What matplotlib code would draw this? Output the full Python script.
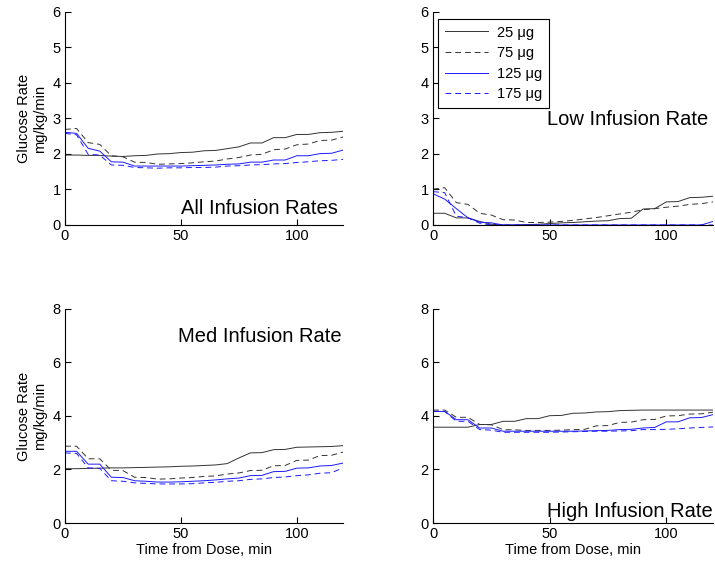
import numpy as np
import matplotlib
matplotlib.use('Agg')
import matplotlib.pyplot as plt

plt.rcParams['font.family'] = ['Liberation Sans', 'DejaVu Sans']

# time from dose, min
time_min = np.arange(0, 121, 5)

doses = ['25 μg', '75 μg', '125 μg', '175 μg']

# All infusion rates
all_25 = [1.97, 1.97, 1.96, 1.96, 1.94, 1.93, 1.95, 1.96, 2.00, 2.01, 2.04, 2.05, 2.09,
          2.10, 2.15, 2.20, 2.31, 2.31, 2.46, 2.46, 2.55, 2.55, 2.60, 2.61, 2.64]
all_75 = [2.69, 2.72, 2.32, 2.27, 1.95, 1.92, 1.77, 1.76, 1.71, 1.72, 1.73, 1.75, 1.78,
          1.80, 1.86, 1.90, 1.97, 1.99, 2.12, 2.14, 2.26, 2.28, 2.38, 2.39, 2.48]
all_125 = [2.61, 2.58, 2.16, 2.08, 1.78, 1.77, 1.66, 1.66, 1.66, 1.66, 1.66, 1.67, 1.68,
           1.69, 1.71, 1.72, 1.77, 1.77, 1.83, 1.83, 1.95, 1.95, 2.01, 2.02, 2.11]
all_175 = [2.58, 2.54, 1.99, 1.97, 1.69, 1.68, 1.62, 1.61, 1.60, 1.61, 1.61, 1.62, 1.62,
           1.63, 1.66, 1.67, 1.69, 1.70, 1.72, 1.73, 1.76, 1.78, 1.81, 1.82, 1.85]

# Low infusion rate
low_25 = [0.33, 0.33, 0.20, 0.20, 0.10, 0.02, 0.00, 0.00, 0.01, 0.02, 0.04, 0.06, 0.07,
          0.09, 0.11, 0.12, 0.18, 0.19, 0.45, 0.46, 0.65, 0.66, 0.77, 0.78, 0.81]
low_75 = [1.01, 1.05, 0.63, 0.58, 0.33, 0.28, 0.15, 0.14, 0.07, 0.07, 0.08, 0.10, 0.13,
          0.17, 0.21, 0.26, 0.31, 0.36, 0.43, 0.46, 0.50, 0.53, 0.58, 0.60, 0.65]
low_125 = [0.88, 0.73, 0.46, 0.20, 0.08, 0.06, 0.00, 0.00, 0.00, 0.00, 0.00, 0.00, 0.00,
           0.00, 0.00, 0.00, 0.00, 0.00, 0.00, 0.00, 0.00, 0.00, 0.00, 0.00, 0.10]
low_175 = [0.94, 0.91, 0.25, 0.20, 0.05, 0.00, 0.00, 0.00, 0.00, 0.00, 0.00, 0.00, 0.00,
           0.00, 0.00, 0.00, 0.00, 0.00, 0.00, 0.00, 0.00, 0.00, 0.00, 0.00, 0.00]

# Med infusion rate
med_25 = [2.03, 2.03, 2.04, 2.05, 2.06, 2.06, 2.07, 2.08, 2.09, 2.10, 2.12, 2.13, 2.15,
          2.17, 2.22, 2.43, 2.62, 2.63, 2.74, 2.75, 2.83, 2.84, 2.85, 2.86, 2.89]
med_75 = [2.87, 2.87, 2.40, 2.40, 1.97, 1.96, 1.71, 1.70, 1.64, 1.65, 1.68, 1.70, 1.74,
          1.76, 1.83, 1.87, 1.96, 1.97, 2.14, 2.15, 2.34, 2.35, 2.52, 2.53, 2.65]
med_125 = [2.68, 2.68, 2.20, 2.20, 1.71, 1.70, 1.58, 1.56, 1.53, 1.53, 1.54, 1.56, 1.58,
           1.61, 1.65, 1.68, 1.77, 1.78, 1.92, 1.93, 2.05, 2.06, 2.13, 2.15, 2.24]
med_175 = [2.62, 2.60, 2.06, 2.04, 1.58, 1.56, 1.50, 1.48, 1.46, 1.46, 1.46, 1.47, 1.50,
           1.52, 1.56, 1.58, 1.63, 1.65, 1.70, 1.72, 1.77, 1.80, 1.86, 1.88, 2.06]

# High infusion rate
high_25 = [3.58, 3.58, 3.58, 3.58, 3.68, 3.68, 3.80, 3.80, 3.90, 3.90, 4.01, 4.02, 4.10,
           4.11, 4.15, 4.16, 4.20, 4.21, 4.22, 4.22, 4.22, 4.22, 4.22, 4.22, 4.22]
high_75 = [4.22, 4.22, 3.95, 3.95, 3.68, 3.67, 3.49, 3.48, 3.46, 3.46, 3.46, 3.47, 3.49,
           3.50, 3.63, 3.64, 3.76, 3.77, 3.86, 3.87, 4.00, 4.01, 4.07, 4.08, 4.14]
high_125 = [4.17, 4.17, 3.86, 3.86, 3.55, 3.55, 3.43, 3.43, 3.43, 3.43, 3.43, 3.43, 3.43,
            3.44, 3.45, 3.46, 3.49, 3.50, 3.55, 3.57, 3.78, 3.78, 3.93, 3.94, 4.05]
high_175 = [4.17, 4.17, 3.80, 3.80, 3.49, 3.47, 3.39, 3.39, 3.39, 3.39, 3.39, 3.40, 3.41,
            3.42, 3.43, 3.43, 3.44, 3.45, 3.49, 3.49, 3.50, 3.52, 3.55, 3.57, 3.59]

panels = [
    ('All Infusion Rates', [all_25, all_75, all_125, all_175], 6, [0.0909, 0.6018, 0.389, 0.377], (0.98, 0.05)),
    ('Low Infusion Rate', [low_25, low_75, low_125, low_175], 6, [0.6056, 0.6018, 0.3916, 0.377], (0.982, 0.47)),
    ('Med Infusion Rate', [med_25, med_75, med_125, med_175], 8, [0.0909, 0.0743, 0.389, 0.379], (0.996, 0.846)),
    ('High Infusion Rate', [high_25, high_75, high_125, high_175], 8, [0.6056, 0.0743, 0.3916, 0.379], (1.0, 0.028)),
]

dash = (0, (6, 4))
styles = [('#333333', '-'), ('#333333', dash), ('#1a1aff', '-'), ('#1a1aff', dash)]

fig = plt.figure(figsize=(7.15, 5.65), dpi=100)

for i, (title, series, ymax, rect, txt_pos) in enumerate(panels):
    ax = fig.add_axes(rect)
    for vals, (c, ls), lab in zip(series, styles, doses):
        ax.plot(time_min, vals, color=c, linestyle=ls, linewidth=0.7, label=lab)
    ax.set_xlim(0, 120)
    ax.set_ylim(0, ymax)
    ax.set_xticks([0, 50, 100])
    if ymax == 6:
        ax.set_yticks(range(0, 7))
    else:
        ax.set_yticks(range(0, 9, 2))
    ax.spines['top'].set_visible(False)
    ax.spines['right'].set_visible(False)
    for s in ['left', 'bottom']:
        ax.spines[s].set_linewidth(0.8)
    ax.tick_params(direction='in', length=4, width=0.8, labelsize=10.5, pad=3)
    ax.text(txt_pos[0], txt_pos[1], title, transform=ax.transAxes,
            ha='right', va='baseline', fontsize=14.5)
    if i % 2 == 0:
        ax.set_ylabel('Glucose Rate\nmg/kg/min', fontsize=10.5, labelpad=4)
    if i >= 2:
        ax.set_xlabel('Time from Dose, min', fontsize=10.5, labelpad=1)
    if i == 1:
        leg = ax.legend(loc='upper left', bbox_to_anchor=(0.018, 0.967), borderaxespad=0,
                        fontsize=10.5, handlelength=3.0, fancybox=False, framealpha=1,
                        labelspacing=0.45, borderpad=0.45, handletextpad=0.6)
        leg.get_frame().set_edgecolor('black')
        leg.get_frame().set_linewidth(0.8)

fig.savefig('out.png', dpi=100)
